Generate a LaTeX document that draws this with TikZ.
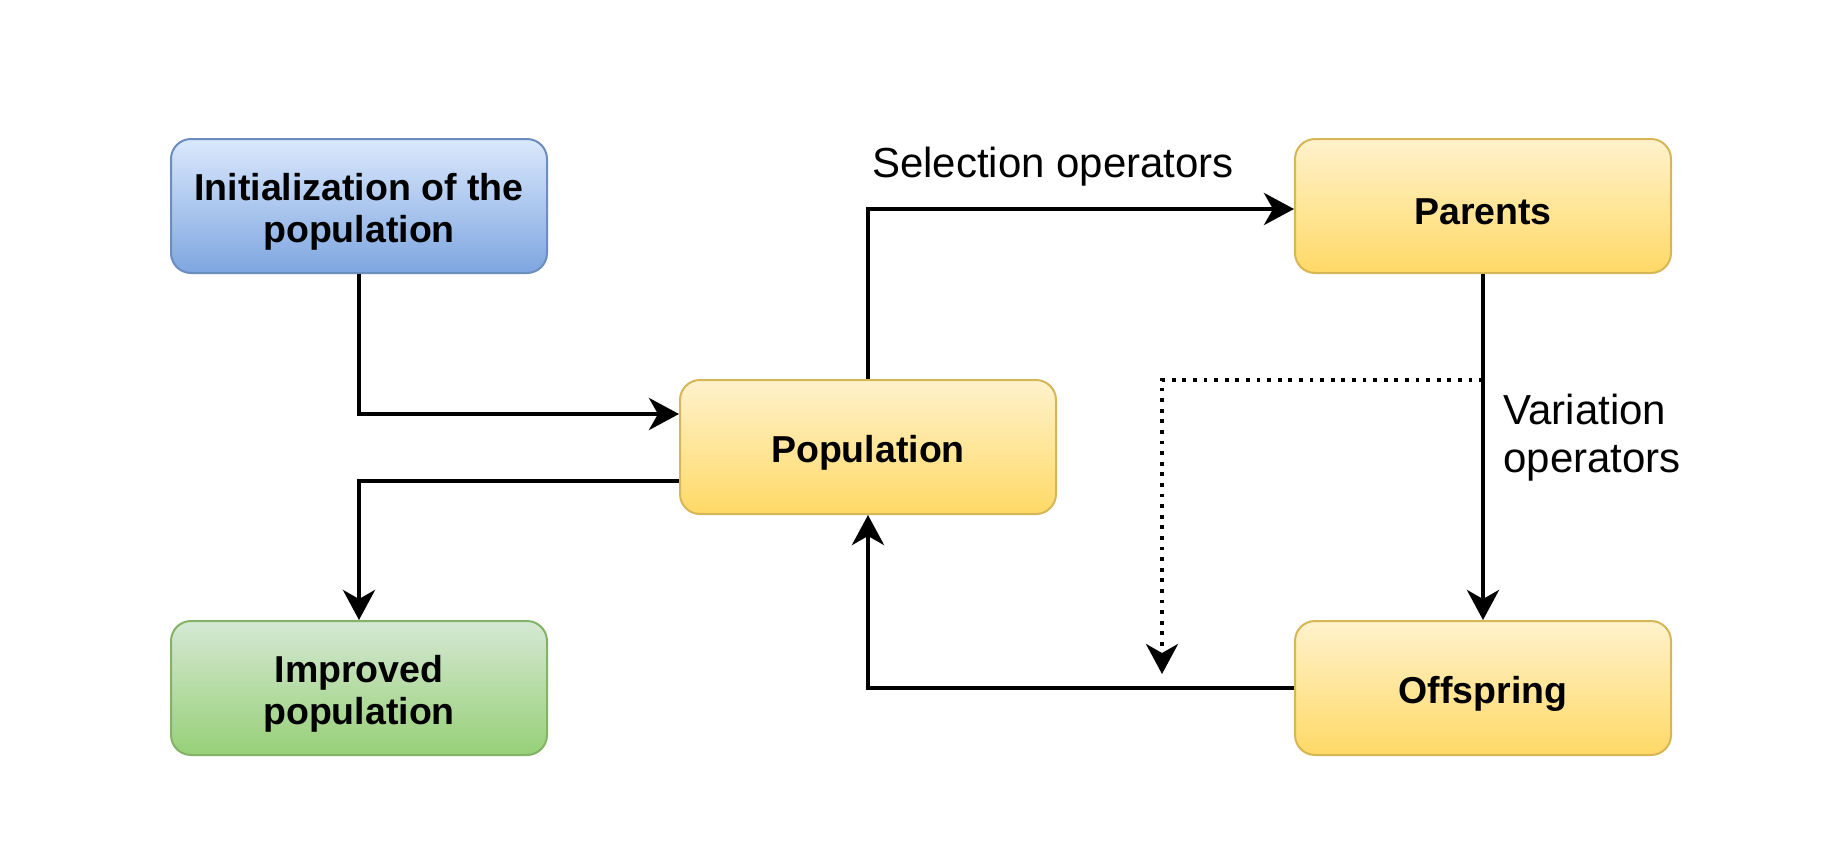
\documentclass[tikz,border=0pt]{standalone}
\usepackage{fontspec}
\setmainfont{Liberation Sans}
\usetikzlibrary{arrows.meta}
\definecolor{bluT}{HTML}{DAE8FC}
\definecolor{bluB}{HTML}{7EA6E0}
\definecolor{bluS}{HTML}{6C8EBF}
\definecolor{yelT}{HTML}{FFF2CC}
\definecolor{yelB}{HTML}{FFD966}
\definecolor{yelS}{HTML}{D6B656}
\definecolor{grnT}{HTML}{D5E8D4}
\definecolor{grnB}{HTML}{97D077}
\definecolor{grnS}{HTML}{82B366}
\newcommand{\boxstrut}{\rule{0pt}{38pt}}
\begin{document}
\begin{tikzpicture}[x=1pt,y=-1pt,
  box/.style={line width=2pt, rounded corners=20pt, minimum width=376pt, minimum height=134pt,
    align=center, inner sep=0pt, font=\fontsize{37.5}{42}\selectfont\bfseries},
  bluebox/.style={box, draw=bluS, top color=bluT, bottom color=bluB},
  yellowbox/.style={box, draw=yelS, top color=yelT, bottom color=yelB},
  greenbox/.style={box, draw=grnS, top color=grnT, bottom color=grnB},
  conn/.style={line width=4.5pt, -{Stealth[length=30pt,width=32pt,inset=9pt]}},
  dotconn/.style={line width=3.8pt, dash pattern=on 3.8pt off 6.8pt, -{Stealth[length=30pt,width=32pt,inset=9pt]}},
  lbl/.style={font=\fontsize{42}{48}\selectfont}]
\fill[white] (0,0) rectangle (1834,852);
\useasboundingbox (0,0) rectangle (1834,852);

\node[bluebox] (init) at (359,206) {\boxstrut Initialization of the\\population};
\node[greenbox] (impr) at (359,688) {\boxstrut Improved\\population};
\node[yellowbox] (pop) at (868,447) {\boxstrut Population};
\node[yellowbox] (par) at (1483,206) {\boxstrut Parents};
\node[yellowbox] (off) at (1483,688) {\boxstrut Offspring};

\coordinate (dotc) at (1162,380);
\coordinate (dotend) at (1162,674);

\draw[conn] (init.south) |- ([yshift=33pt]pop.west);
\draw[conn] ([yshift=-34pt]pop.west) -| (impr.north);
\draw[conn] (pop.north) |- ([yshift=-3pt]par.west);
\draw[conn] (par.south) -- (off.north);
\draw[conn] (off.west) -| (pop.south);
\draw[dotconn] (par.south) |- (dotc) -- (dotend);

\node[lbl, anchor=base] (sellbl) at (1053,177) {Selection operators};
\node[lbl, anchor=west, align=left] (varlbl) at (1500,438) {Variation\\operators};
\end{tikzpicture}
\end{document}
